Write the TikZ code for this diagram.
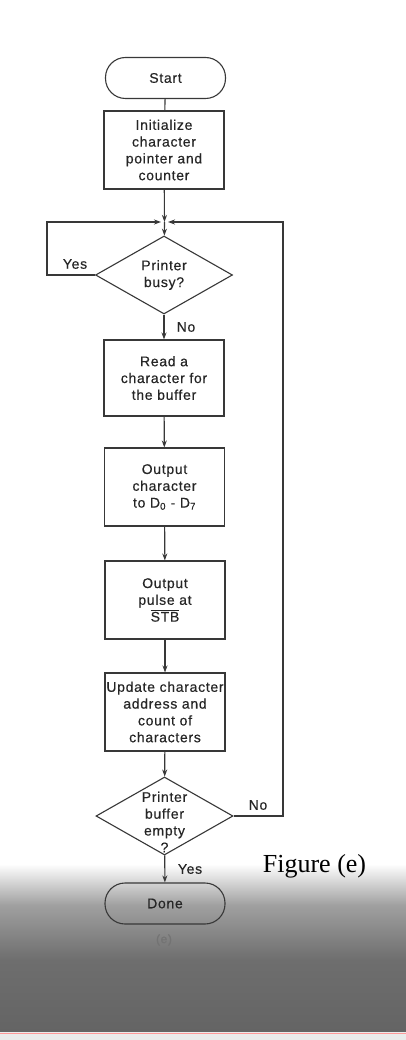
\documentclass[tikz,border=0pt]{standalone}
\usepackage{fontspec}
\setmainfont{Liberation Sans}
\newfontfamily\flowfont{Liberation Sans}[LetterSpace=5,FakeBold=0.4]
\newfontfamily\figfont{Liberation Serif}
\usetikzlibrary{shapes.geometric,arrows.meta,calc}
\definecolor{bgA}{RGB}{160,160,160}
\definecolor{bgB}{RGB}{110,110,110}
\definecolor{bgC}{RGB}{100,100,100}
\begin{document}
\begin{tikzpicture}[x=1pt,y=-1pt,
  line/.style={draw=black!78, line width=1.1pt},
  arr/.style={line, -{Stealth[length=7pt,width=5pt]}},
  box/.style={line, rectangle, minimum width=120pt, minimum height=78pt, inner sep=0pt, align=center, text=black!85, font=\flowfont\fontsize{14}{16.8}\selectfont},
  term/.style={box, minimum height=41pt, rounded corners=20pt},
  dec/.style={line, diamond, minimum width=137pt, minimum height=78pt, inner sep=0pt},
  lab/.style={text=black!85, font=\flowfont\fontsize{14}{16.8}\selectfont}
]
\useasboundingbox (0,0) rectangle (406,1040);
\fill[white] (0,0) rectangle (406,1040);
% scanned grey background at the bottom
\fill[top color=white, bottom color=bgA] (0,864) rectangle (406,905);
\fill[top color=bgA, bottom color=bgB] (0,905) rectangle (406,960);
\fill[top color=bgB, bottom color=bgC] (0,960) rectangle (406,1032);
\fill[black!8] (0,1032) rectangle (406,1040);
\draw[red!40, line width=0.8pt] (0,1033) -- (406,1033);

% nodes
\node[term] (start) at (165.5,78) {Start};
\node[box] (init) at (164,150) {Initialize\\character\\pointer and\\counter};
\coordinate (j) at (164.5,222);
\node[dec, label={[lab, align=center]center:Printer\\busy?}] (d1) at (164,275) {};
\node[box, minimum height=76pt] (read) at (164,378) {Read a\\character for\\the buffer};
\node[box] (out) at (164.5,487) {Output\\character\\to D\textsubscript{0} - D\textsubscript{7}};
\node[box] (pulse) at (165,600) {Output\\pulse at\\$\overline{\hbox{STB}}$};
\node[box] (upd) at (165,712) {Update character\\address and\\count of\\characters};
\node[dec, label={[lab, align=center, yshift=-6pt]center:Printer\\buffer\\empty\\?}] (d2) at (164.5,816) {};
\node[term] (done) at (165,903.5) {Done};

% loop coordinates
\coordinate (yl) at (47,275);
\coordinate (ytop) at (47,222);
\coordinate (jl) at (161,222);
\coordinate (nr) at (283,816);
\coordinate (ntop) at (283,222);
\coordinate (jr) at (168,222);

% connectors
\draw[line] (start) -- (init);
\draw[arr] (init) -- (j);
\draw[arr] (j) -- (d1);
\draw[arr] (d1.west) -- (yl) -- (ytop) -- (jl);
\draw[arr] (d1) -- (read);
\draw[arr] (read) -- (out);
\draw[arr] (out) -- (pulse);
\draw[arr] (pulse) -- (upd);
\draw[arr] (upd) -- (d2);
\draw[arr] (d2.east) -- (nr) -- (ntop) -- (jr);
\draw[arr] (d2) -- (done);

% labels
\node[lab] (yes1) at (75,264) {Yes};
\node[lab] (no1) at (186,327) {No};
\node[lab] (no2) at (258,805) {No};
\node[lab] (yes2) at (190,869) {Yes};
\node[font=\figfont\fontsize{26}{30}\selectfont] (fig) at (314.5,866) {Figure (e)};
\node[font=\flowfont\fontsize{12}{14}\selectfont, text=black!55] (sub) at (164,940) {(e)};
\end{tikzpicture}
\end{document}
